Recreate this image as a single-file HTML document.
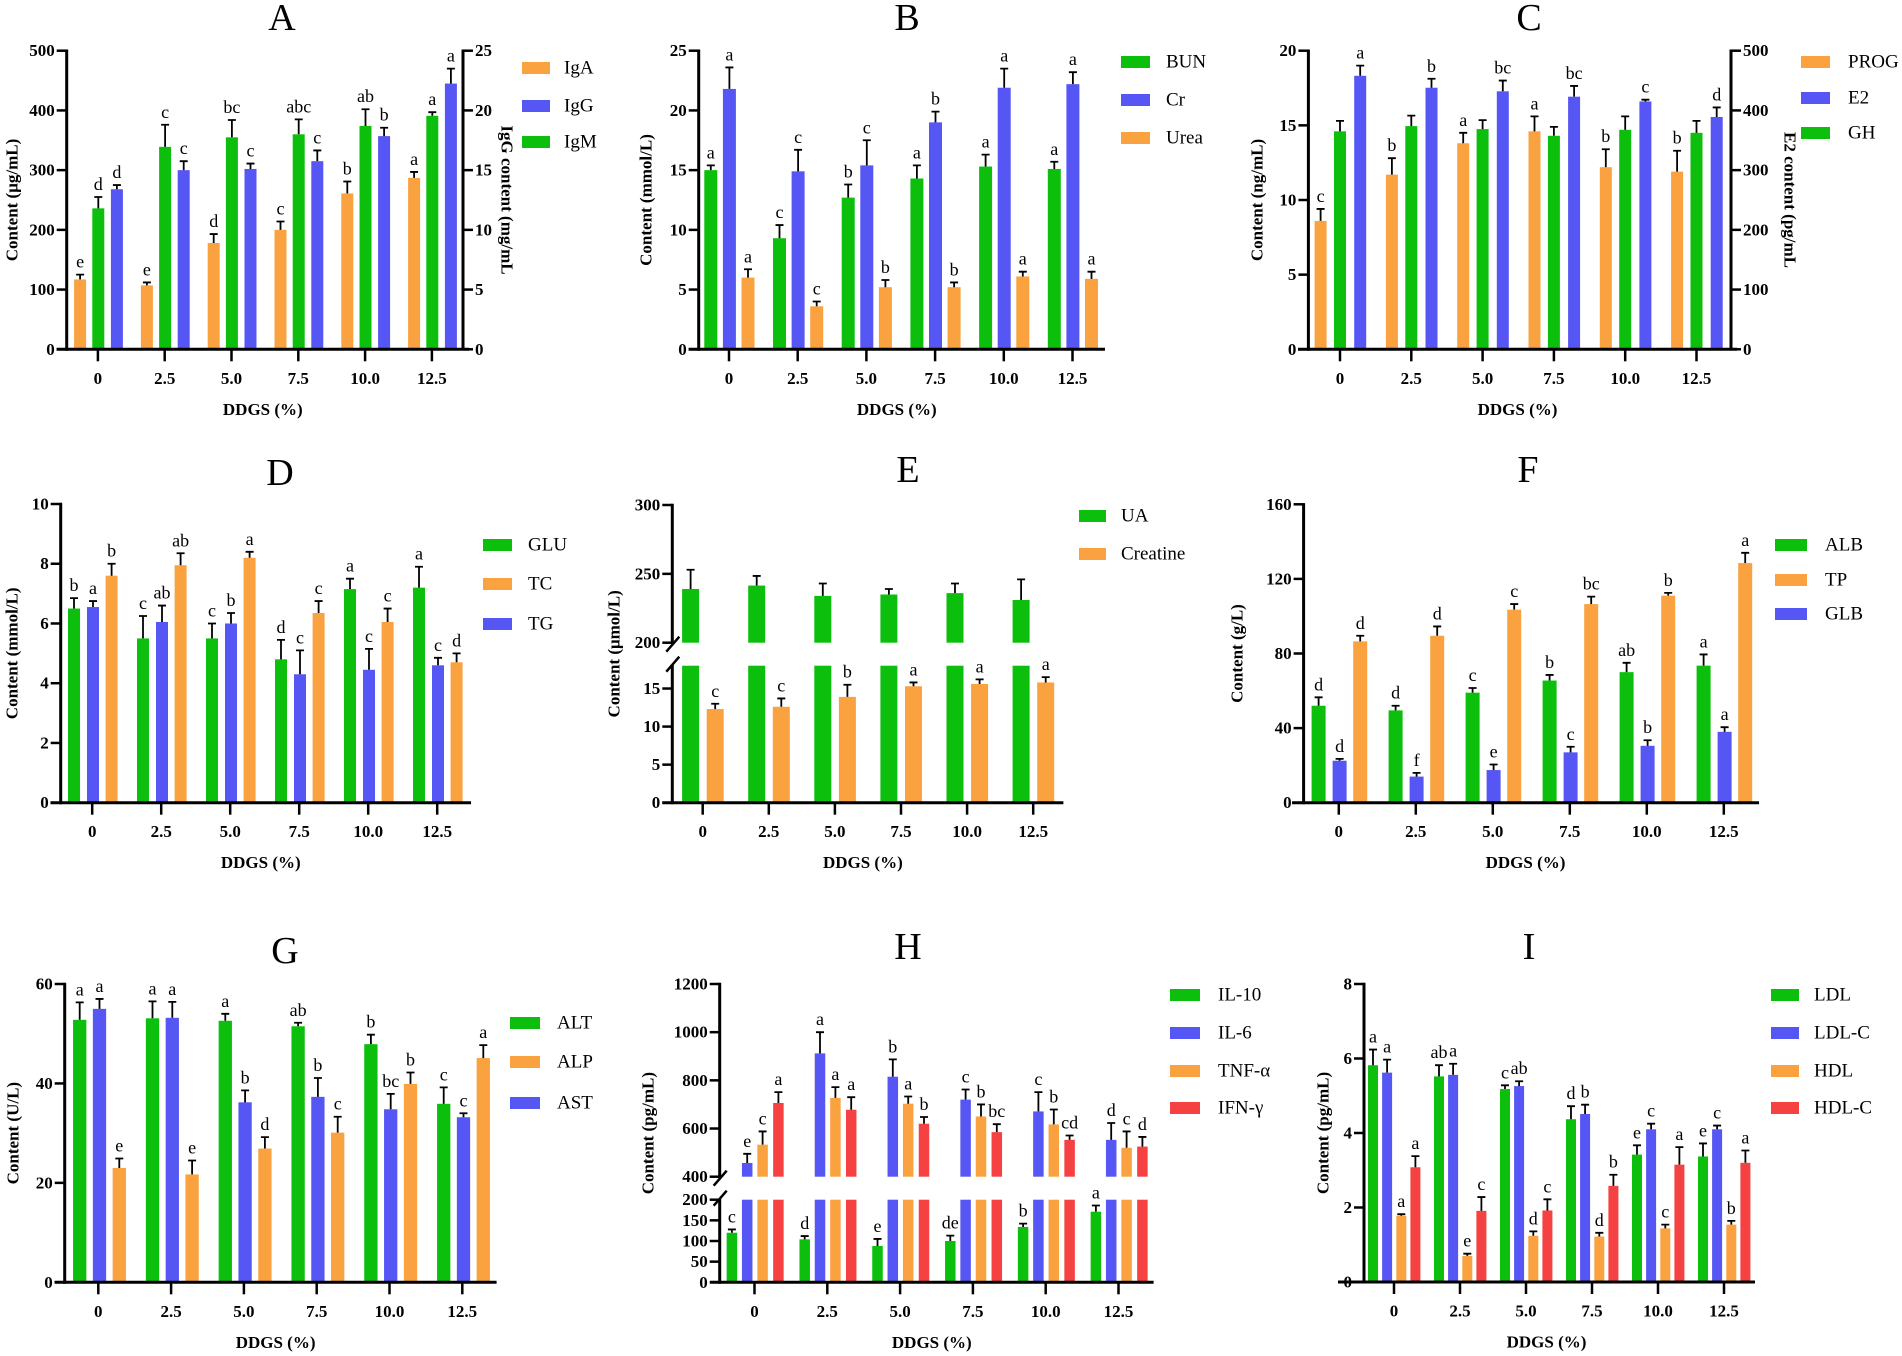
<!DOCTYPE html>
<html><head><meta charset="utf-8"><style>
html,body{margin:0;padding:0;background:#fff;}
svg{display:block;}
text{font-family:"Liberation Serif",serif;}
.tk{font-weight:bold;font-size:17px;}
.ttl{font-size:38px;}
.lg{font-size:19px;}
.let{font-size:18px;}
.axt{font-weight:bold;font-size:17px;}
</style></head><body>
<svg id="fig" width="1902" height="1356" viewBox="0 0 1902 1356" xmlns="http://www.w3.org/2000/svg">
<rect x="0" y="0" width="1902" height="1356" fill="#fff"/>
</svg>
<script>
const categories=['0','2.5','5.0','7.5','10.0','12.5'];
// A
const aIgA=[117,107,178,200,261,287], aIgAErr=[8,5,15,14,20,10], aIgALet=['e','e','d','c','b','a'];
const aIgM=[236,339,355,360,374,391], aIgMErr=[19,37,29,25,28,6], aIgMLet=['d','c','bc','abc','ab','a'];
const aIgG=[13.4,15.0,15.1,15.75,17.85,22.25], aIgGErr=[0.35,0.75,0.45,0.9,0.7,1.25], aIgGLet=['d','c','c','c','b','a'];
const aTicks=[0,100,200,300,400,500], aRTicks=[0,5,10,15,20,25];
// B
const bBUN=[15.0,9.3,12.7,14.3,15.3,15.1], bBUNErr=[0.4,1.1,1.1,1.1,1.0,0.6], bBUNLet=['a','c','b','a','a','a'];
const bCr=[21.8,14.9,15.4,19.0,21.9,22.2], bCrErr=[1.8,1.8,2.1,0.9,1.6,1.0], bCrLet=['a','c','c','b','a','a'];
const bUrea=[6.0,3.6,5.2,5.2,6.1,5.9], bUreaErr=[0.7,0.4,0.6,0.4,0.4,0.6], bUreaLet=['a','c','b','b','a','a'];
const bTicks=[0,5,10,15,20,25];
// C
const cPROG=[8.6,11.7,13.8,14.6,12.2,11.9], cPROGErr=[0.8,1.1,0.7,1.0,1.2,1.4], cPROGLet=['c','b','a','a','b','b'];
const cGH=[14.6,14.95,14.75,14.3,14.7,14.5], cGHErr=[0.7,0.7,0.6,0.6,0.9,0.8], cGHLet=['','','','','',''];
const cE2=[458,438,432,423,415,389], cE2Err=[17,15,18,18,3,16], cE2Let=['a','b','bc','bc','c','d'];
const cTicks=[0,5,10,15,20], cRTicks=[0,100,200,300,400,500];
// D
const dGLU=[6.5,5.5,5.5,4.8,7.15,7.2], dGLUErr=[0.35,0.75,0.5,0.65,0.35,0.7], dGLULet=['b','c','c','d','a','a'];
const dTG=[6.55,6.05,6.0,4.3,4.45,4.6], dTGErr=[0.2,0.55,0.35,0.8,0.7,0.25], dTGLet=['a','ab','b','c','c','c'];
const dTC=[7.6,7.95,8.2,6.35,6.05,4.7], dTCErr=[0.4,0.4,0.2,0.4,0.45,0.3], dTCLet=['b','ab','a','c','c','d'];
const dTicks=[0,2,4,6,8,10];
// E
const eUA=[239,241.5,234,235,236,231], eUAErr=[14,7,9,4,7,15], eUALet=['','','','','',''];
const eCre=[12.3,12.6,13.9,15.3,15.6,15.8], eCreErr=[0.7,1.1,1.6,0.5,0.6,0.7], eCreLet=['c','c','b','a','a','a'];
const eTicksLow=[0,5,10,15], eTicksHigh=[200,250,300];
// F
const fALB=[52,49.5,59,65.5,70,73.5], fALBErr=[4.5,2.5,2.5,3,5,6], fALBLet=['d','d','c','b','ab','a'];
const fGLB=[22.5,14,17.5,27,30.5,38], fGLBErr=[1,2,3,3,3,2.5], fGLBLet=['d','f','e','c','b','a'];
const fTP=[86.5,89.5,103.5,106.5,111,128.5], fTPErr=[3,5,3,4,1.5,5.5], fTPLet=['d','d','c','bc','b','a'];
const fTicks=[0,40,80,120,160];
// G
const gALT=[52.8,53.1,52.6,51.5,47.9,35.9], gALTErr=[3.5,3.4,1.4,0.7,1.9,3.3], gALTLet=['a','a','a','ab','b','c'];
const gAST=[55,53.2,36.2,37.3,34.8,33.2], gASTErr=[2,3.2,2.4,3.8,3.1,0.8], gASTLet=['a','a','b','b','bc','c'];
const gALP=[23,21.7,26.9,30.1,39.9,45.1], gALPErr=[1.9,2.8,2.3,3.2,2.3,2.6], gALPLet=['e','e','d','c','b','a'];
const gTicks=[0,20,40,60];
// H
const hIL10=[120,104,88,100,134,171], hIL10Err=[8,8,17,13,8,15], hIL10Let=['c','d','e','de','b','a'];
const hIL6=[457,912,815,720,671,553], hIL6Err=[38,88,72,42,80,70], hIL6Let=['e','a','b','c','c','d'];
const hTNF=[533,727,703,650,617,520], hTNFErr=[55,45,30,50,62,68], hTNFLet=['c','a','a','b','b','c'];
const hIFN=[706,678,620,585,553,525], hIFNErr=[45,52,28,33,18,40], hIFNLet=['a','a','b','bc','cd','d'];
const hTicksLow=[0,50,100,150,200], hTicksHigh=[400,600,800,1000,1200];
// I
const iLDL=[5.82,5.52,5.18,4.37,3.42,3.37], iLDLErr=[0.42,0.3,0.1,0.35,0.25,0.35], iLDLLet=['a','ab','c','d','e','e'];
const iLDLC=[5.62,5.56,5.26,4.51,4.1,4.1], iLDLCErr=[0.35,0.3,0.13,0.25,0.15,0.1], iLDLCLet=['a','a','ab','b','c','c'];
const iHDL=[1.78,0.7,1.24,1.22,1.44,1.54], iHDLErr=[0.04,0.06,0.12,0.1,0.1,0.1], iHDLLet=['a','e','d','d','c','b'];
const iHDLC=[3.08,1.91,1.92,2.58,3.15,3.2], iHDLCErr=[0.3,0.37,0.3,0.3,0.47,0.33], iHDLCLet=['a','c','c','b','a','a'];

const GREEN='#0CBF0C', ORANGE='#F9A23F', BLUE='#5656F4', RED='#F54141';
const NS='http://www.w3.org/2000/svg';
const svg=document.getElementById('fig');
function mk(tag,attrs,parent){const e=document.createElementNS(NS,tag);for(const k in attrs)e.setAttribute(k,attrs[k]);(parent||svg).appendChild(e);return e;}

const panels=[
{id:'a',title:'A',tx:282,ty:18,yAxisX:66.7,xStart:56.6,xEnd:469,x0:97.9,step:66.8,offs:[-17.8,0.4,19],bw:12,
 segs:[{lo:0,hi:500,pLo:349.3,pHi:50.7,ticks:aTicks}],right:{x:463,max:25,ticks:aRTicks,title:'IgG content (mg/mL',tx:507},
 series:[{n:'IgA',v:aIgA,e:aIgAErr,l:aIgALet,c:ORANGE},{n:'IgM',v:aIgM,e:aIgMErr,l:aIgMLet,c:GREEN},{n:'IgG',v:aIgG,e:aIgGErr,l:aIgGLet,c:BLUE,r:true}],
 legend:{order:[0,2,1],sx:522,sw:28,ys:[68,106,142],tx:564},ytitle:'Content (μg/mL)',ytx:12},
{id:'b',title:'B',tx:907,ty:18,yAxisX:698.7,xStart:688.6,xEnd:1105,x0:729,step:68.7,offs:[-18.2,0.4,19],bw:13,
 segs:[{lo:0,hi:25,pLo:349.3,pHi:50.7,ticks:bTicks}],
 series:[{n:'BUN',v:bBUN,e:bBUNErr,l:bBUNLet,c:GREEN},{n:'Cr',v:bCr,e:bCrErr,l:bCrLet,c:BLUE},{n:'Urea',v:bUrea,e:bUreaErr,l:bUreaLet,c:ORANGE}],
 legend:{order:[0,1,2],sx:1121,sw:29,ys:[62,100,138],tx:1166},ytitle:'Content (mmol/L)',ytx:646},
{id:'c',title:'C',tx:1529,ty:18,yAxisX:1308.4,xStart:1298,xEnd:1737,x0:1340,step:71.3,offs:[-19.4,0,20.2],bw:12,
 segs:[{lo:0,hi:20,pLo:349.3,pHi:50.7,ticks:cTicks}],right:{x:1731,max:500,ticks:cRTicks,title:'E2 content (pg/mL',tx:1790},
 series:[{n:'PROG',v:cPROG,e:cPROGErr,l:cPROGLet,c:ORANGE},{n:'GH',v:cGH,e:cGHErr,l:cGHLet,c:GREEN},{n:'E2',v:cE2,e:cE2Err,l:cE2Let,c:BLUE,r:true}],
 legend:{order:[0,2,1],sx:1801,sw:29,ys:[62,98,133],tx:1848},ytitle:'Content (ng/mL)',ytx:1257},
{id:'d',title:'D',tx:280,ty:473,yAxisX:60.7,xStart:50.5,xEnd:471,x0:92.2,step:69,offs:[-18.2,0.8,19.4],bw:12,
 segs:[{lo:0,hi:10,pLo:802.7,pHi:504,ticks:dTicks}],
 series:[{n:'GLU',v:dGLU,e:dGLUErr,l:dGLULet,c:GREEN},{n:'TG',v:dTG,e:dTGErr,l:dTGLet,c:BLUE},{n:'TC',v:dTC,e:dTCErr,l:dTCLet,c:ORANGE}],
 legend:{order:[0,2,1],sx:483,sw:29,ys:[545,584,624],tx:528},ytitle:'Content (mmol/L)',ytx:12},
{id:'e',title:'E',tx:908,ty:470,yAxisX:672.3,xStart:662.3,xEnd:1063.4,x0:702.7,step:66.1,offs:[-12.1,12.5],bw:17,
 segs:[{lo:0,hi:18,pLo:802.7,pHi:665.7,ticks:eTicksLow},{lo:200,hi:300,pLo:642.7,pHi:505,ticks:eTicksHigh}],
 series:[{n:'UA',v:eUA,e:eUAErr,l:eUALet,c:GREEN},{n:'Creatine',v:eCre,e:eCreErr,l:eCreLet,c:ORANGE}],
 legend:{order:[0,1],sx:1079,sw:27,ys:[516,554],tx:1121},ytitle:'Content (μmol/L)',ytx:614},
{id:'f',title:'F',tx:1528,ty:470,yAxisX:1303.6,xStart:1292,xEnd:1759,x0:1338.8,step:77,offs:[-20.2,0.8,21.4],bw:14,
 segs:[{lo:0,hi:160,pLo:802.7,pHi:504.3,ticks:fTicks}],
 series:[{n:'ALB',v:fALB,e:fALBErr,l:fALBLet,c:GREEN},{n:'GLB',v:fGLB,e:fGLBErr,l:fGLBLet,c:BLUE},{n:'TP',v:fTP,e:fTPErr,l:fTPLet,c:ORANGE}],
 legend:{order:[0,2,1],sx:1775,sw:32,ys:[545,580,614],tx:1825},ytitle:'Content (g/L)',ytx:1237},
{id:'g',title:'G',tx:285,ty:951,yAxisX:64.7,xStart:54.6,xEnd:496.6,x0:98.3,step:72.8,offs:[-18.6,1.2,21],bw:13.3,
 segs:[{lo:0,hi:60,pLo:1282.3,pHi:984,ticks:gTicks}],
 series:[{n:'ALT',v:gALT,e:gALTErr,l:gALTLet,c:GREEN},{n:'AST',v:gAST,e:gASTErr,l:gASTLet,c:BLUE},{n:'ALP',v:gALP,e:gALPErr,l:gALPLet,c:ORANGE}],
 legend:{order:[0,2,1],sx:510,sw:30,ys:[1023,1062,1103],tx:557},ytitle:'Content (U/L)',ytx:13},
{id:'h',title:'H',tx:908,ty:947,yAxisX:719.7,xStart:710,xEnd:1153.6,x0:754.5,step:72.8,offs:[-22.6,-7.3,8.1,23.9],bw:10.5,
 segs:[{lo:0,hi:200,pLo:1282.3,pHi:1199.7,ticks:hTicksLow},{lo:400,hi:1200,pLo:1176.7,pHi:984,ticks:hTicksHigh}],
 series:[{n:'IL-10',v:hIL10,e:hIL10Err,l:hIL10Let,c:GREEN},{n:'IL-6',v:hIL6,e:hIL6Err,l:hIL6Let,c:BLUE},{n:'TNF-α',v:hTNF,e:hTNFErr,l:hTNFLet,c:ORANGE},{n:'IFN-γ',v:hIFN,e:hIFNErr,l:hIFNLet,c:RED}],
 legend:{order:[0,1,2,3],sx:1170,sw:30,ys:[995,1033,1071,1108],tx:1218},ytitle:'Content (pg/mL)',ytx:648},
{id:'i',title:'I',tx:1529,ty:947,yAxisX:1364,xStart:1338,xEnd:1755,x0:1394,step:66,offs:[-21,-6.9,7.3,21.4],bw:10,
 segs:[{lo:0,hi:8,pLo:1282,pHi:984,ticks:[0,2,4,6,8]}],
 series:[{n:'LDL',v:iLDL,e:iLDLErr,l:iLDLLet,c:GREEN},{n:'LDL-C',v:iLDLC,e:iLDLCErr,l:iLDLCLet,c:BLUE},{n:'HDL',v:iHDL,e:iHDLErr,l:iHDLLet,c:ORANGE},{n:'HDL-C',v:iHDLC,e:iHDLCErr,l:iHDLCLet,c:RED}],
 legend:{order:[0,1,2,3],sx:1771,sw:28,ys:[995,1033,1071,1108],tx:1814},ytitle:'Content (pg/mL)',ytx:1323}
];

function yMap(p,v,right){
  if(right){const s=p.segs[0];return s.pLo-(v/p.right.max)*(s.pLo-s.pHi);}
  for(const s of p.segs){if(v<=s.hi||s===p.segs[p.segs.length-1]){const vv=Math.max(v,s.lo);return s.pLo-(vv-s.lo)/(s.hi-s.lo)*(s.pLo-s.pHi);}}
}
function xMap(p,i){return p.x0+i*p.step;}

panels.forEach(p=>{
  const g=mk('g',{});
  
  
  const t=mk('text',{x:p.tx,y:p.ty,'text-anchor':'middle','dominant-baseline':'central',class:'ttl'},g);t.textContent=p.title;
  
  
  const y0=p.segs[0].pLo, yTop=p.segs[p.segs.length-1].pHi;
  p.series.forEach((s,si)=>{
    s.v.forEach((v,i)=>{
      const cx=xMap(p,i)+p.offs[si];
      const pieces=s.r?[{a:yMap(p,v,true),b:y0}]:p.segs.filter(seg=>v>seg.lo).map(seg=>({a:yMap(p,Math.min(v,seg.hi),false),b:seg.pLo}));
      pieces.forEach(pc=>{
        const r=mk('rect',{x:cx-p.bw/2,y:pc.a,width:p.bw,height:Math.max(0,pc.b-pc.a),fill:s.c},g);
        
        
      });
      const yv=yMap(p,v,s.r), ye=yMap(p,v+s.e[i],s.r);
      const eb=mk('path',{d:`M${cx} ${yv}V${ye}M${cx-4} ${ye}H${cx+4}`,stroke:'#000','stroke-width':1.8,fill:'none'},g);
      
      
      if(s.l[i]){const lt=mk('text',{x:cx,y:ye-7,'text-anchor':'middle',class:'let'},g);lt.textContent=s.l[i];
        
        }
    });
  });
  p.segs.forEach((seg,k)=>{
    const ax=mk('line',{x1:p.yAxisX,y1:seg.pLo+(k===0?1.5:0),x2:p.yAxisX,y2:seg.pHi-1.2,stroke:'#000','stroke-width':3},g);
    
    
    seg.ticks.forEach(tv=>{
      const ty=seg.pLo-(tv-seg.lo)/(seg.hi-seg.lo)*(seg.pLo-seg.pHi);
      mk('line',{x1:p.yAxisX-10,y1:ty,x2:p.yAxisX,y2:ty,stroke:'#000','stroke-width':2.5},g);
      const tl=mk('text',{x:p.yAxisX-12,y:ty,'text-anchor':'end','dominant-baseline':'central',class:'tk'},g);tl.textContent=tv;
      
      
    });
    if(p.segs.length>1){
      if(k===0) mk('line',{x1:p.yAxisX-6,y1:seg.pHi+6,x2:p.yAxisX+7,y2:seg.pHi-9,stroke:'#000','stroke-width':2.5},g);
      else mk('line',{x1:p.yAxisX-6,y1:seg.pLo+9,x2:p.yAxisX+7,y2:seg.pLo-6,stroke:'#000','stroke-width':2.5},g);
    }
  });
  if(p.right){
    const R=p.right;
    mk('line',{x1:R.x,y1:y0,x2:R.x,y2:yTop-1.2,stroke:'#000','stroke-width':3},g);
    R.ticks.forEach(tv=>{const ty=yMap(p,tv,true);
      mk('line',{x1:R.x,y1:ty,x2:R.x+10,y2:ty,stroke:'#000','stroke-width':2.5},g);
      const tl=mk('text',{x:R.x+12,y:ty,'dominant-baseline':'central',class:'tk'},g);tl.textContent=tv;
      
      });
    const cy=(y0+yTop)/2;
    const rt=mk('text',{x:R.tx,y:cy,'text-anchor':'middle','dominant-baseline':'central',class:'axt',transform:`rotate(90 ${R.tx} ${cy})`},g);rt.textContent=R.title;
    
    
  }
  const xa=mk('line',{x1:p.xStart,y1:y0,x2:p.xEnd,y2:y0,stroke:'#000','stroke-width':3},g);
  
  
  categories.forEach((c,i)=>{const x=xMap(p,i);
    mk('line',{x1:x,y1:y0,x2:x,y2:y0+12,stroke:'#000','stroke-width':2.5},g);
    const tl=mk('text',{x:x,y:y0+29,'text-anchor':'middle','dominant-baseline':'central',class:'tk'},g);tl.textContent=c;
    
    });
  const xt=mk('text',{x:(p.xStart+p.xEnd)/2,y:y0+60,'text-anchor':'middle','dominant-baseline':'central',class:'axt'},g);xt.textContent='DDGS (%)';
  
  
  const cy=(y0+yTop)/2;
  const yt=mk('text',{x:p.ytx,y:cy,'text-anchor':'middle','dominant-baseline':'central',class:'axt',transform:`rotate(-90 ${p.ytx} ${cy})`},g);yt.textContent=p.ytitle;
  
  
  p.legend.order.forEach((si,k)=>{const s=p.series[si];const ly=p.legend.ys[k];
    const lg=mk('g',{},g);
    
    
    mk('rect',{x:p.legend.sx,y:ly-6,width:p.legend.sw,height:12,fill:s.c},lg);
    const lt=mk('text',{x:p.legend.tx,y:ly,'dominant-baseline':'central',class:'lg'},lg);lt.textContent=s.n;});
});
</script>
</body></html>
